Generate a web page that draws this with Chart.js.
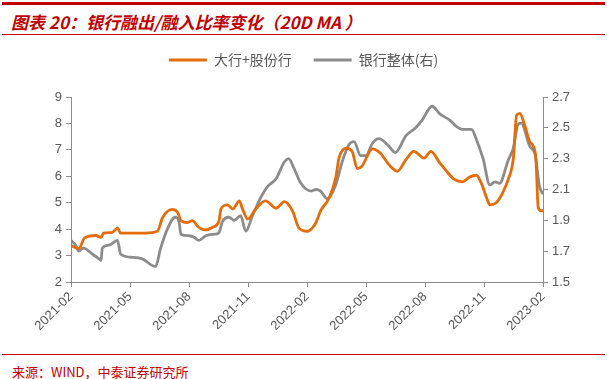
<!DOCTYPE html>
<html>
<head>
<meta charset="utf-8">
<script src="https://cdn.jsdelivr.net/npm/chart.js@4"></script>
<style>
  body { margin: 0; background: #fff; width: 607px; height: 379px; position: relative; overflow: hidden; }
  .bar-top { position: absolute; left: 2px; right: 2px; top: 2px; height: 3px; background: #c00000; }
  .title { position: absolute; left: 11px; top: 9px; font: italic bold 17px "Noto Sans CJK SC", sans-serif; color: #c00000; white-space: nowrap; }
  .line-title { position: absolute; left: 2px; right: 2px; top: 34px; height: 1px; background: #c00000; }
  .line-src { position: absolute; left: 2px; right: 2px; top: 354px; height: 1px; background: #c00000; }
  .src { position: absolute; left: 12px; top: 362px; font: 13px "Noto Sans CJK SC", sans-serif; color: #c00000; white-space: nowrap; }
  #wrap { position: absolute; left: 0; top: 31px; width: 607px; height: 314px; }
</style>
</head>
<body>
<div class="bar-top"></div>
<div class="title">图表 20：银行融出/融入比率变化（20D MA ）</div>
<div class="line-title"></div>
<div id="wrap"><canvas id="ratioChart"></canvas></div>
<div class="line-src"></div>
<div class="src">来源：WIND，中泰证券研究所</div>
<script>
// 大行+股份行 (左轴)
const bigBankDates = ['2021-02-01','2021-02-13','2021-02-22','2021-03-09','2021-03-17','2021-03-21','2021-04-04','2021-04-12','2021-04-17','2021-05-05','2021-05-25','2021-06-13','2021-06-21','2021-07-06','2021-07-14','2021-07-19','2021-07-29','2021-08-06','2021-08-16','2021-08-27','2021-09-07','2021-09-17','2021-09-20','2021-09-30','2021-10-08','2021-10-18','2021-10-23','2021-10-31','2021-11-13','2021-11-28','2021-12-14','2021-12-27','2022-01-09','2022-01-19','2022-02-02','2022-02-10','2022-02-15','2022-02-22','2022-03-05','2022-03-15','2022-03-20','2022-03-31','2022-04-10','2022-04-18','2022-04-25','2022-05-11','2022-05-23','2022-06-06','2022-06-19','2022-07-02','2022-07-14','2022-07-30','2022-08-10','2022-08-24','2022-09-04','2022-09-16','2022-09-29','2022-10-09','2022-10-20','2022-10-27','2022-11-05','2022-11-10','2022-11-20','2022-11-30','2022-12-08','2022-12-16','2022-12-21','2022-12-26','2023-01-03','2023-01-11','2023-01-20','2023-01-24','2023-01-29','2023-02-01'];
const bigBankValues = [3.38,3.26,3.67,3.76,3.69,3.85,3.88,4.04,3.85,3.85,3.85,3.92,4.44,4.75,4.63,4.32,4.25,4.32,4.07,3.97,4.07,4.32,4.76,4.92,4.76,5.07,4.76,4.38,4.76,5.07,4.79,5.04,4.69,4.04,3.92,4.07,4.26,4.69,5.19,5.94,6.69,7.06,6.94,6.29,6.38,7.04,6.88,6.44,6.19,6.63,6.94,6.69,6.94,6.50,6.19,5.88,5.79,5.97,6.04,5.75,5.19,4.92,5.00,5.38,5.88,6.69,8.31,8.38,7.94,7.31,6.81,4.82,4.69,4.72];

// 银行整体 (右轴)
const allBankDates = ['2021-02-01','2021-02-08','2021-02-13','2021-02-20','2021-03-04','2021-03-14','2021-03-17','2021-03-19','2021-03-30','2021-04-12','2021-04-17','2021-05-05','2021-05-20','2021-06-10','2021-06-18','2021-06-28','2021-07-10','2021-07-16','2021-07-19','2021-08-01','2021-08-09','2021-08-16','2021-08-27','2021-09-10','2021-09-17','2021-09-22','2021-10-02','2021-10-10','2021-10-20','2021-10-28','2021-11-08','2021-11-21','2021-12-01','2021-12-14','2021-12-27','2022-01-03','2022-01-11','2022-01-22','2022-02-07','2022-02-15','2022-02-22','2022-03-02','2022-03-15','2022-03-25','2022-04-05','2022-04-13','2022-04-23','2022-05-01','2022-05-11','2022-05-21','2022-06-04','2022-06-16','2022-07-02','2022-07-17','2022-07-27','2022-08-12','2022-08-24','2022-09-09','2022-09-19','2022-09-29','2022-10-12','2022-10-20','2022-10-30','2022-11-10','2022-11-18','2022-11-25','2022-12-08','2022-12-16','2022-12-23','2022-12-28','2023-01-11','2023-01-19','2023-01-26','2023-02-01'];
const allBankValues = [1.77,1.74,1.70,1.72,1.68,1.65,1.64,1.72,1.74,1.77,1.68,1.66,1.65,1.60,1.72,1.84,1.92,1.89,1.81,1.80,1.79,1.77,1.80,1.81,1.82,1.89,1.92,1.90,1.93,1.83,1.93,2.05,2.12,2.17,2.28,2.30,2.24,2.14,2.09,2.10,2.09,2.04,2.13,2.28,2.39,2.41,2.32,2.32,2.40,2.43,2.39,2.34,2.45,2.50,2.55,2.64,2.59,2.55,2.51,2.49,2.49,2.42,2.30,2.13,2.15,2.14,2.29,2.37,2.52,2.53,2.38,2.33,2.12,2.07];

const seriesNames = ['大行+股份行', '银行整体(右)'];
const tickMonths = ['2021-02','2021-05','2021-08','2021-11','2022-02','2022-05','2022-08','2022-11','2023-02'];

// 日期 -> 自2021-02起的月数
function toMonthIndex(s) {
  const [y, m, d] = s.split('-').map(Number);
  return (y - 2021) * 12 + (m - 2) + ((d || 1) - 1) / 30.4;
}
function toPoints(dates, values) {
  return dates.map((d, i) => ({ x: toMonthIndex(d), y: values[i] }));
}

const axisColor = '#8c8c8c';
const textColor = '#595959';
const tickFont = { family: 'Liberation Sans, Arial', size: 13 };

// 图例与绘图区之间多留一点空
const legendGap = {
  id: 'legendGap',
  beforeInit(chart) {
    const fit = chart.legend.fit;
    chart.legend.fit = function () {
      fit.call(this);
      this.height += 20;
    };
  }
};

new Chart(document.getElementById('ratioChart'), {
  type: 'line',
  data: {
    datasets: [
      {
        label: seriesNames[0],
        data: toPoints(bigBankDates, bigBankValues),
        borderColor: '#e46c0a',
        backgroundColor: '#e46c0a',
        borderWidth: 2.8,
        pointRadius: 0,
        cubicInterpolationMode: 'monotone',
        yAxisID: 'y'
      },
      {
        label: seriesNames[1],
        data: toPoints(allBankDates, allBankValues),
        borderColor: '#8c8c8c',
        backgroundColor: '#8c8c8c',
        borderWidth: 2.8,
        pointRadius: 0,
        cubicInterpolationMode: 'monotone',
        yAxisID: 'y1'
      }
    ]
  },
  plugins: [legendGap],
  options: {
    responsive: true,
    maintainAspectRatio: false,
    animation: false,
    layout: { padding: { top: 0, left: 0, right: 0, bottom: 0 } },
    plugins: {
      tooltip: { enabled: false },
      legend: {
        position: 'top',
        labels: {
          color: textColor,
          font: { family: 'Noto Sans CJK SC', size: 14 },
          boxWidth: 38,
          boxHeight: 3,
          padding: 22,
          generateLabels: (chart) =>
            Chart.defaults.plugins.legend.labels.generateLabels(chart).map(l => ({ ...l, lineWidth: 0, fillStyle: l.strokeStyle }))
        }
      }
    },
    scales: {
      x: {
        type: 'linear',
        min: 0,
        max: 24,
        afterBuildTicks: (scale) => { scale.ticks = tickMonths.map((t, i) => ({ value: i * 3 })); },
        afterFit: (scale) => { scale.height = 63; },
        border: { color: axisColor, width: 1 },
        grid: { drawOnChartArea: false, color: axisColor, tickLength: 5 },
        ticks: {
          color: textColor,
          font: tickFont,
          maxRotation: 45,
          minRotation: 45,
          padding: 2,
          autoSkip: false,
          callback: (v) => tickMonths[Math.round(v / 3)]
        }
      },
      y: {
        position: 'left',
        min: 2,
        max: 9,
        afterFit: (scale) => { scale.width = 71; },
        border: { color: axisColor, width: 1 },
        grid: { drawOnChartArea: false, color: axisColor, tickLength: 5 },
        ticks: { stepSize: 1, color: textColor, font: tickFont, padding: 4 }
      },
      y1: {
        position: 'right',
        min: 1.5,
        max: 2.7,
        afterFit: (scale) => { scale.width = 64; },
        border: { color: axisColor, width: 1 },
        grid: { drawOnChartArea: false, color: axisColor, tickLength: 5 },
        ticks: { stepSize: 0.2, color: textColor, font: tickFont, padding: 4, callback: (v) => v.toFixed(1) }
      }
    }
  }
});
</script>
</body>
</html>
